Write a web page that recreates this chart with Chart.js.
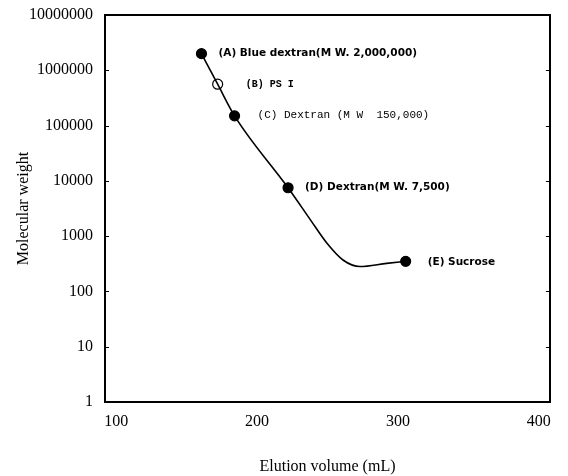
<!DOCTYPE html>
<html>
<head>
<meta charset="utf-8">
<script src="https://cdn.jsdelivr.net/npm/chart.js@4.4.1/dist/chart.umd.min.js"></script>
<style>
  html, body { margin: 0; padding: 0; background: #fff; }
  #wrap { width: 568px; height: 476px; }
</style>
</head>
<body>
<div id="wrap"><canvas id="c" width="568" height="476"></canvas></div>
<script>
// Calibration standards: elution volume (mL) and molecular weight
const standardNames = [
  '(A) Blue dextran(M W. 2,000,000)',
  '(B) PS I',
  '(C) Dextran (M W  150,000)',
  '(D) Dextran(M W. 7,500)',
  '(E) Sucrose'
];
const elutionVolume = [160.5, 172, 184, 222, 305.5];
const molecularWeight = [2000000, 560000, 150000, 7500, 350];
const openMarker = [false, true, false, false, false];

// Drawn calibration curve
const curveVolume = [160.5, 172, 184, 222, 238, 249.5, 261, 273, 292, 305.5];
const curveWeight = [2000000, 560000, 150000, 7500, 1950, 750, 370, 282, 322, 350];

// Axis ticks
const xTicks = [100, 200, 300, 400];
const yTicks = [1, 10, 100, 1000, 10000, 100000, 1000000, 10000000];

const serif = '"Liberation Serif", "Times New Roman", serif';
const sans = '"DejaVu Sans", Verdana, sans-serif';
const mono = '"Liberation Mono", "Courier New", monospace';

// Label fonts and offsets from each marker
const labelStyle = [
  { font: 'bold 10.5px ' + sans, dx: 17, dy: 0 },
  { font: 'bold 10px ' + mono, dx: 28, dy: 0 },
  { font: '11px ' + mono, dx: 23, dy: -1 },
  { font: 'bold 10.5px ' + sans, dx: 17, dy: 0 },
  { font: 'bold 10.5px ' + sans, dx: 22, dy: 1 }
];

const framePlugin = {
  id: 'frame',
  afterDatasetsDraw(chart) {
    const { ctx, chartArea: a, scales } = chart;
    ctx.save();
    ctx.strokeStyle = '#000';
    ctx.lineWidth = 2;
    ctx.strokeRect(a.left, a.top, a.right - a.left, a.bottom - a.top);
    ctx.lineWidth = 1.2;
    yTicks.forEach(v => {
      const y = Math.round(scales.y.getPixelForValue(v)) + 0.5;
      ctx.beginPath();
      ctx.moveTo(a.left, y); ctx.lineTo(a.left + 4, y);
      ctx.moveTo(a.right, y); ctx.lineTo(a.right - 4, y);
      ctx.stroke();
    });
    // standard labels
    const meta = chart.getDatasetMeta(1);
    ctx.fillStyle = '#000';
    ctx.textBaseline = 'middle';
    ctx.textAlign = 'left';
    meta.data.forEach((pt, i) => {
      const s = labelStyle[i];
      ctx.font = s.font;
      ctx.fillText(standardNames[i], pt.x + s.dx, pt.y + s.dy);
    });
    ctx.restore();
  }
};

new Chart(document.getElementById('c'), {
  type: 'line',
  data: {
    datasets: [
      {
        label: 'curve',
        data: curveVolume.map((x, i) => ({ x, y: curveWeight[i] })),
        borderColor: '#000',
        borderWidth: 1.6,
        pointRadius: 0,
        cubicInterpolationMode: 'monotone',
        fill: false
      },
      {
        label: 'standards',
        data: elutionVolume.map((x, i) => ({ x, y: molecularWeight[i] })),
        showLine: false,
        pointRadius: 5,
        pointBorderWidth: 1.2,
        pointBorderColor: '#000',
        pointBackgroundColor: openMarker.map(o => o ? '#fff' : '#000')
      }
    ]
  },
  options: {
    responsive: false,
    animation: false,
    devicePixelRatio: 1,
    layout: { padding: { top: 15, right: 18, left: 0, bottom: 0 } },
    plugins: { legend: { display: false }, tooltip: { enabled: false } },
    scales: {
      x: {
        type: 'linear',
        min: 92,
        max: 408,
        afterBuildTicks(s) { s.ticks = xTicks.map(v => ({ value: v })); },
        afterFit(s) { s.height = 74; s.paddingLeft = 0; s.paddingRight = 0; },
        grid: { display: false, drawTicks: false },
        border: { display: false },
        ticks: {
          color: '#000',
          font: { family: serif, size: 16 },
          padding: 10,
          maxRotation: 0,
          callback: v => String(v)
        },
        title: {
          display: true,
          text: 'Elution volume (mL)',
          color: '#000',
          font: { family: serif, size: 16 },
          padding: { top: 13, bottom: 0 }
        }
      },
      y: {
        type: 'logarithmic',
        min: 1,
        max: 10000000,
        afterBuildTicks(s) { s.ticks = yTicks.map(v => ({ value: v })); },
        afterFit(s) { s.width = 105; s.paddingTop = 0; s.paddingBottom = 0; },
        grid: { display: false, drawTicks: false },
        border: { display: false },
        ticks: {
          color: '#000',
          font: { family: serif, size: 16 },
          padding: 12,
          callback: v => String(v)
        },
        title: {
          display: true,
          text: 'Molecular weight',
          color: '#000',
          font: { family: serif, size: 16 },
          padding: { top: 14, bottom: 4 }
        }
      }
    }
  },
  plugins: [framePlugin]
});
</script>
</body>
</html>
